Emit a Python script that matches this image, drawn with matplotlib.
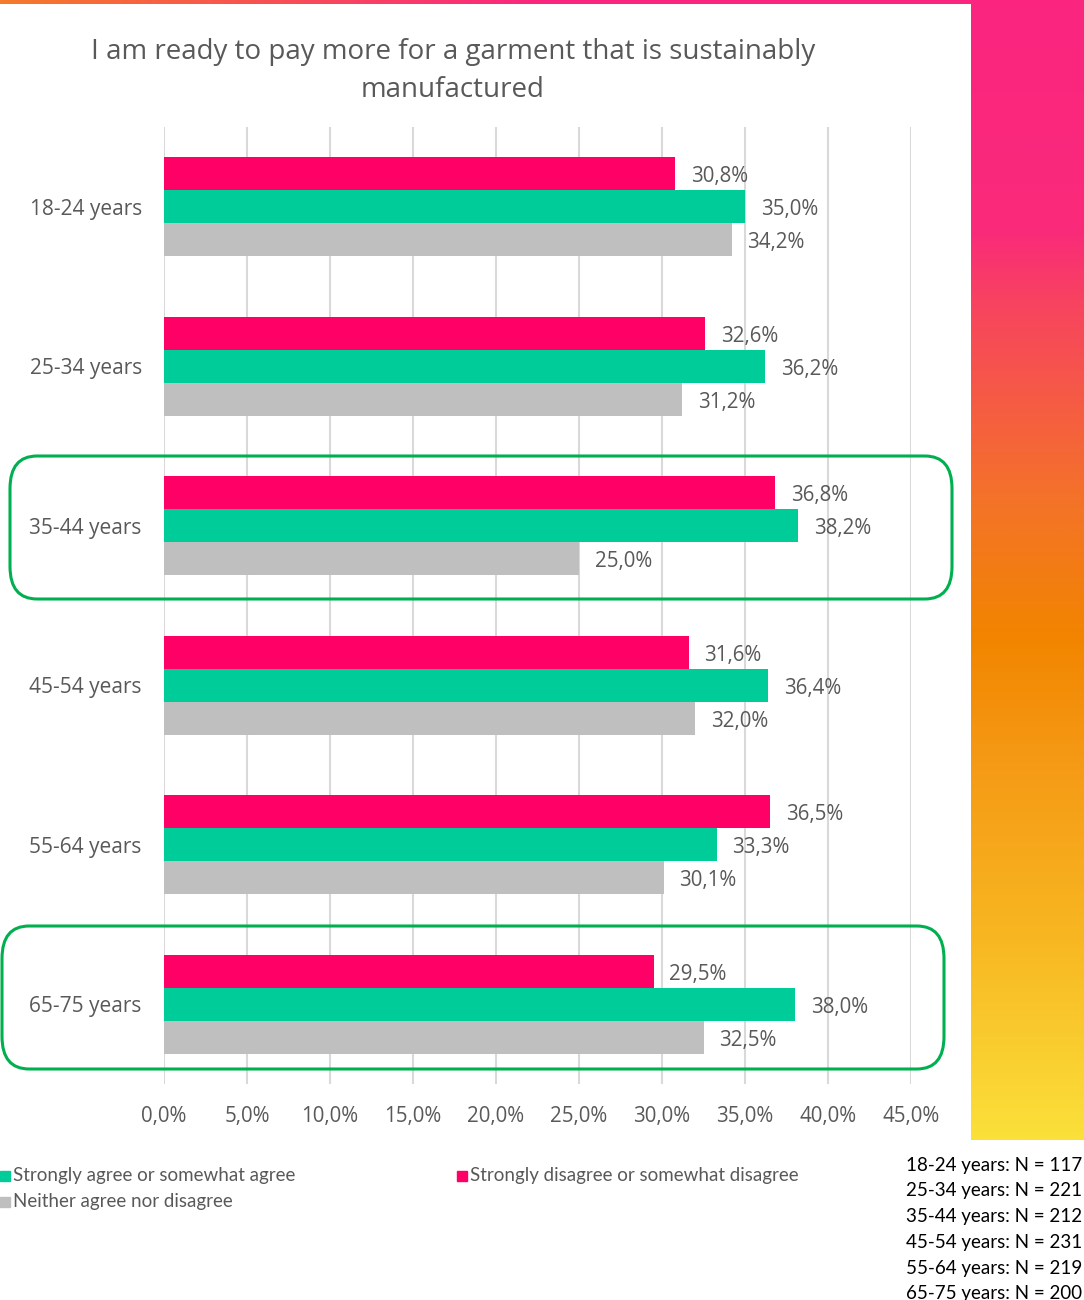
import matplotlib.pyplot as plt
import numpy as np
from matplotlib.colors import LinearSegmentedColormap
from matplotlib.patches import FancyBboxPatch, Rectangle

plt.rcParams['font.family'] = ['Open Sans', 'DejaVu Sans']

groups = ['18-24 years', '25-34 years', '35-44 years', '45-54 years', '55-64 years', '65-75 years']
disagree = [30.8, 32.6, 36.8, 31.6, 36.5, 29.5]
agree = [35.0, 36.2, 38.2, 36.4, 33.3, 38.0]
neither = [34.2, 31.2, 25.0, 32.0, 30.1, 32.5]
n_counts = [117, 221, 212, 231, 219, 200]

PINK = '#FF0066'
GREEN = '#00CC99'
GREY = '#BFBFBF'
TXT = '#595959'

fig = plt.figure(figsize=(10.84, 13.0), dpi=100)

# right-hand gradient panel and top strip
grad = LinearSegmentedColormap.from_list('g', [(0, '#FB2580'), (0.2, '#FA2A7A'), (0.27, '#F7455E'),
                                                (0.44, '#F47328'), (0.56, '#F28500'), (0.67, '#F59A15'),
                                                (0.83, '#F8B822'), (1, '#FBE03A')])
gax = fig.add_axes([971 / 1084, 1 - 1140 / 1300, 113 / 1084, 1140 / 1300])
gax.imshow(np.linspace(0, 1, 512).reshape(-1, 1), aspect='auto', cmap=grad)
gax.axis('off')
top = LinearSegmentedColormap.from_list('t', ['#F57A2A', '#FB2580', '#FB2580'])
tax = fig.add_axes([0, 1 - 4 / 1300, 1, 4 / 1300])
tax.imshow(np.linspace(0, 1, 256).reshape(1, -1), aspect='auto', cmap=top)
tax.axis('off')

ax = fig.add_axes([164 / 1084, 1 - 1084 / 1300, 747 / 1084, 957 / 1300])
y = np.arange(len(groups))
h = 0.207
ax.barh(y - h, disagree, height=h, color=PINK, zorder=3)
ax.barh(y, agree, height=h, color=GREEN, zorder=3)
ax.barh(y + h, neither, height=h, color=GREY, zorder=3)

for vals, off in [(disagree, -h), (agree, 0), (neither, h)]:
    for i, v in enumerate(vals):
        ax.text(v + 0.95, i + off + 0.02, f'{v:.1f}%'.replace('.', ','), va='center', ha='left',
                fontsize=14.8, color=TXT)

ax.set_xlim(0, 45)
ax.set_ylim(len(groups) - 0.5, -0.5)
ax.set_xticks(np.arange(0, 46, 5))
ax.set_xticklabels([f'{t:.1f}%'.replace('.', ',') for t in np.arange(0, 46, 5)])
ax.set_yticks(y)
ax.set_yticklabels(groups)
ax.tick_params(axis='x', length=0, labelsize=14.8, labelcolor=TXT, pad=16)
ax.tick_params(axis='y', length=0, labelsize=15, labelcolor=TXT, pad=16)
ax.grid(axis='x', color='#D9D9D9', linewidth=1.5, zorder=0)
for s in ax.spines.values():
    s.set_visible(False)

# rounded highlight boxes (pixel extents x0, x1, y0, y1)
for x0, x1, y0, y1 in [(10, 952, 456, 599), (2, 944, 926, 1069)]:
    box = FancyBboxPatch((x0 / 1084, 1 - y1 / 1300), (x1 - x0) / 1084, (y1 - y0) / 1300,
                         boxstyle='round,pad=0,rounding_size=0.025', transform=fig.transFigure,
                         fill=False, edgecolor='#00B050', linewidth=2.2, zorder=5)
    fig.patches.append(box)

fig.text(453 / 1084, 1 - 71 / 1300, 'I am ready to pay more for a garment that is sustainably\nmanufactured',
         ha='center', va='center', fontsize=20, color=TXT, linespacing=1.5)

# legend
leg = [(0, 1176, GREEN, 'Strongly agree or somewhat agree'),
       (0, 1202, GREY, 'Neither agree nor disagree'),
       (457, 1176, PINK, 'Strongly disagree or somewhat disagree')]
for lx, ly, c, label in leg:
    fig.patches.append(Rectangle((lx / 1084, 1 - (ly + 5) / 1300), 10 / 1084, 10 / 1300,
                                 transform=fig.transFigure, color=c))
    fig.text((lx + 13) / 1084, 1 - ly / 1300, label, ha='left', va='center',
             fontsize=13.5, color=TXT, family=['Lato', 'DejaVu Sans'])

for i, (g, n) in enumerate(zip(groups, n_counts)):
    fig.text(1082 / 1084, 1 - (1165 + 25.8 * i) / 1300, f'{g}: N = {n}', ha='right',
             va='center', fontsize=13.5, color='black', family=['Lato', 'DejaVu Sans'])

fig.savefig('out.png', dpi=100)
